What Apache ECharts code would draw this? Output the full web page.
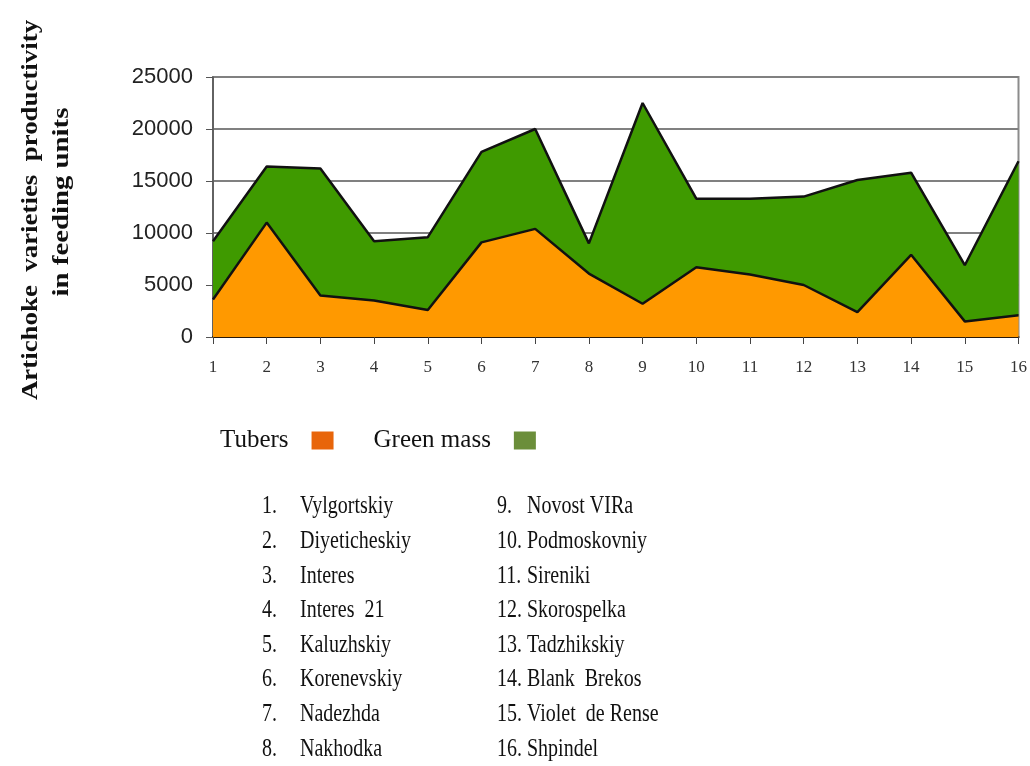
<!DOCTYPE html>
<html>
<head>
<meta charset="utf-8">
<script src="https://cdn.jsdelivr.net/npm/echarts@6/dist/echarts.min.js"></script>
<style>
  html, body { margin: 0; padding: 0; background: #fff; }
  #chart { width: 1030px; height: 766px; }
</style>
</head>
<body>
<div id="chart"></div>
<script>
// values (feeding units)
const categories = ['1', '2', '3', '4', '5', '6', '7', '8', '9', '10', '11', '12', '13', '14', '15', '16'];
const tubers = [3600, 11000, 4000, 3500, 2600, 9100, 10400, 6100, 3200, 6700, 6000, 5000, 2400, 7900, 1500, 2100];
const greenMass = [5600, 5400, 12200, 5700, 7000, 8700, 9600, 2900, 19300, 6600, 7300, 8500, 12700, 7900, 5400, 14800];
const yTicks = { min: 0, max: 25000, interval: 5000 };
const varieties = [
  'Vylgortskiy', 'Diyeticheskiy', 'Interes', 'Interes  21', 'Kaluzhskiy', 'Korenevskiy', 'Nadezhda', 'Nakhodka',
  'Novost VIRa', 'Podmoskovniy', 'Sireniki', 'Skorospelka', 'Tadzhikskiy', 'Blank  Brekos', 'Violet  de Rense', 'Shpindel'
];

const serif = '"Liberation Serif", "DejaVu Serif", serif';
const sans = '"Liberation Sans", Arial, sans-serif';

// numbered list of varieties under the chart, two columns of 8
const listItems = [];
varieties.forEach((name, i) => {
  const col = i < 8 ? 0 : 1;
  const row = i % 8;
  const numX = col === 0 ? 262 : 497;
  const nameX = col === 0 ? 300 : 527;
  const y = 507 + row * 34.6;
  const num = (i + 1) + '.';
  [[num, numX], [name, nameX]].forEach(([text, x]) => {
    listItems.push({
      type: 'text', x: x, y: y, scaleY: 1.22,
      style: { text: text, font: '20px ' + serif, fill: '#111', verticalAlign: 'middle' }
    });
  });
});

const chart = echarts.init(document.getElementById('chart'));
chart.setOption({
  animation: false,
  grid: { left: 213, right: 7, top: 77, bottom: 429, show: true, borderColor: '#8c8c8c', borderWidth: 2 },
  legend: {
    left: 215, top: 423, align: 'right', icon: 'rect', itemWidth: 22, itemHeight: 18, itemGap: 40,
    textStyle: { fontFamily: serif, fontSize: 25, color: '#111', padding: [0, 18, 0, 0] },
    data: [
      { name: 'Tubers', itemStyle: { color: '#e8650a', borderWidth: 0 } },
      { name: 'Green mass', itemStyle: { color: '#6b8e3a', borderWidth: 0 } }
    ]
  },
  xAxis: {
    type: 'category', data: categories, boundaryGap: false,
    axisLine: { lineStyle: { color: '#2a1a0a', width: 2 } },
    axisTick: { show: true, length: 7, lineStyle: { color: '#444' } },
    axisLabel: { margin: 22, color: '#333', fontFamily: serif, fontSize: 17 },
    splitLine: { show: false }
  },
  yAxis: {
    type: 'value', min: yTicks.min, max: yTicks.max, interval: yTicks.interval,
    axisLine: { show: true, lineStyle: { color: '#555', width: 1.5 } },
    axisTick: { show: true, length: 7, lineStyle: { color: '#555' } },
    axisLabel: { margin: 20, color: '#222', fontFamily: sans, fontSize: 22, formatter: (v) => String(v) },
    splitLine: { lineStyle: { color: '#808080', width: 2 } }
  },
  graphic: [
    {
      type: 'text', x: 31, y: 210, rotation: Math.PI / 2, scaleX: 1.12,
      style: { text: 'Artichoke  varieties  productivity', font: 'bold 24px ' + serif, fill: '#111', align: 'center', verticalAlign: 'middle' }
    },
    {
      type: 'text', x: 62, y: 202, rotation: Math.PI / 2, scaleX: 1.2,
      style: { text: 'in feeding units', font: 'bold 24px ' + serif, fill: '#111', align: 'center', verticalAlign: 'middle' }
    }
  ].concat(listItems),
  series: [
    {
      name: 'Tubers', type: 'line', stack: 'total', data: tubers, showSymbol: false,
      lineStyle: { color: '#111', width: 2.5 }, itemStyle: { color: '#e8650a' },
      areaStyle: { color: '#ff9900', opacity: 1 }
    },
    {
      name: 'Green mass', type: 'line', stack: 'total', data: greenMass, showSymbol: false,
      lineStyle: { color: '#111', width: 2.5 }, itemStyle: { color: '#6b8e3a' },
      areaStyle: { color: '#3f9a00', opacity: 1 }
    }
  ]
});
</script>
</body>
</html>
